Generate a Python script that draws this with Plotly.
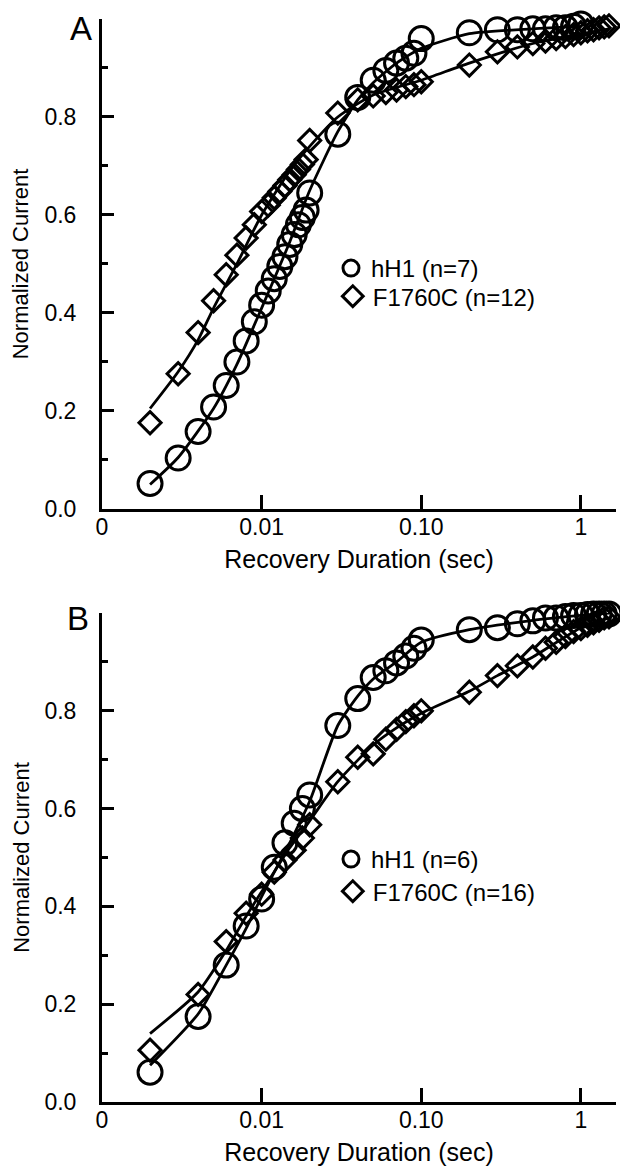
import plotly.graph_objects as go

# ---------------- Panel A data ----------------
xA_hH1 = [0.002, 0.003, 0.004, 0.005, 0.006, 0.007, 0.008, 0.009, 0.010,
          0.011, 0.012, 0.013, 0.014, 0.015, 0.016, 0.017, 0.018, 0.019, 0.020,
          0.03, 0.04, 0.05, 0.06, 0.07, 0.08, 0.09, 0.10,
          0.2, 0.3, 0.4, 0.5, 0.6, 0.7, 0.8, 0.9, 1.0]
yA_hH1 = [0.052, 0.104, 0.158, 0.208, 0.252, 0.300, 0.343, 0.382, 0.416,
          0.445, 0.470, 0.495, 0.515, 0.540, 0.560, 0.580, 0.595, 0.610, 0.645,
          0.765, 0.840, 0.875, 0.895, 0.910, 0.920, 0.930, 0.960,
          0.972, 0.978, 0.978, 0.980, 0.980, 0.982, 0.982, 0.985, 0.990]

xA_F = [0.002, 0.003, 0.004, 0.005, 0.006, 0.007, 0.008, 0.009, 0.010,
        0.011, 0.012, 0.013, 0.014, 0.015, 0.016, 0.017, 0.018, 0.019, 0.020,
        0.03, 0.04, 0.05, 0.06, 0.07, 0.08, 0.09, 0.10,
        0.2, 0.3, 0.4, 0.5, 0.6, 0.7, 0.8, 0.9, 1.0, 1.1, 1.2, 1.3, 1.4, 1.5]
yA_F = [0.176, 0.276, 0.360, 0.425, 0.478, 0.518, 0.553, 0.580, 0.607,
        0.620, 0.635, 0.648, 0.660, 0.672, 0.682, 0.693, 0.703, 0.713, 0.752,
        0.808, 0.835, 0.843, 0.850, 0.855, 0.862, 0.866, 0.872,
        0.906, 0.933, 0.943, 0.950, 0.955, 0.960, 0.964, 0.968, 0.972, 0.976, 0.978, 0.982, 0.984, 0.986]

# fitted curves
xA_hH1_fit = [0.002, 0.003, 0.005, 0.007, 0.010, 0.015, 0.020, 0.030, 0.040, 0.050, 0.070, 0.10, 0.20, 0.50, 1.0]
yA_hH1_fit = [0.050, 0.105, 0.205, 0.295, 0.410, 0.545, 0.650, 0.770, 0.835, 0.870, 0.910, 0.940, 0.970, 0.980, 0.985]
xA_F_fit = [0.002, 0.003, 0.004, 0.005, 0.007, 0.010, 0.015, 0.020, 0.030, 0.050, 0.10, 0.20, 0.50, 1.0, 1.5]
yA_F_fit = [0.205, 0.280, 0.345, 0.410, 0.500, 0.600, 0.690, 0.740, 0.800, 0.845, 0.875, 0.910, 0.950, 0.970, 0.980]

# ---------------- Panel B data ----------------
xB = [0.002, 0.004, 0.006, 0.008, 0.010, 0.012, 0.014, 0.016, 0.018, 0.020,
      0.03, 0.04, 0.05, 0.06, 0.07, 0.08, 0.09, 0.10,
      0.2, 0.3, 0.4, 0.5, 0.6, 0.7, 0.8, 0.9, 1.0, 1.1, 1.2, 1.3, 1.4, 1.5]
yB_hH1 = [0.061, 0.175, 0.280, 0.360, 0.415, 0.480, 0.530, 0.570, 0.600, 0.628,
          0.770, 0.825, 0.868, 0.882, 0.898, 0.912, 0.928, 0.945,
          0.966, 0.970, 0.978, 0.984, 0.990, 0.990, 0.993, 0.995, 0.995, 0.997, 0.998, 0.998, 0.998, 0.998]
yB_F = [0.106, 0.220, 0.328, 0.386, 0.425, 0.470, 0.495, 0.515, 0.540, 0.567,
        0.655, 0.705, 0.712, 0.742, 0.762, 0.778, 0.790, 0.800,
        0.838, 0.872, 0.892, 0.910, 0.928, 0.940, 0.952, 0.962, 0.968, 0.975, 0.980, 0.985, 0.990, 0.992]

xB_hH1_fit = [0.002, 0.004, 0.006, 0.008, 0.010, 0.012, 0.015, 0.020, 0.030, 0.040, 0.050, 0.070, 0.10, 0.20, 0.50, 1.0, 1.5]
yB_hH1_fit = [0.075, 0.180, 0.280, 0.355, 0.420, 0.470, 0.530, 0.615, 0.770, 0.830, 0.865, 0.900, 0.940, 0.966, 0.985, 0.995, 1.000]
xB_F_fit = [0.002, 0.004, 0.006, 0.008, 0.010, 0.015, 0.020, 0.030, 0.050, 0.070, 0.10, 0.20, 0.30, 0.50, 1.0, 1.5]
yB_F_fit = [0.140, 0.225, 0.310, 0.380, 0.430, 0.520, 0.575, 0.655, 0.730, 0.765, 0.795, 0.840, 0.872, 0.910, 0.970, 0.990]

legendA = ["hH1 (n=7)", "F1760C (n=12)"]
legendB = ["hH1 (n=6)", "F1760C (n=16)"]

x_tickvals = [0.001, 0.01, 0.1, 1]
x_ticktext = ["0", "0.01", "0.10", "1"]
y_tickvals = [0.0, 0.2, 0.4, 0.6, 0.8]
y_ticktext = ["0.0", "0.2", "0.4", "0.6", "0.8"]
y_minor = [0.1, 0.3, 0.5, 0.7, 0.9]

FONT = "Liberation Sans, Arial, Helvetica, sans-serif"
FS = 23
BLK = "black"

fig = go.Figure()

def add_panel(xa, ya, xc, yc, xcf, ycf, xd, yd, xdf, ydf, names, legends):
    # fitted lines
    for xf, yf in ((xcf, ycf), (xdf, ydf)):
        fig.add_trace(go.Scatter(x=xf, y=yf, mode="lines",
                                 line=dict(color=BLK, width=2.8, shape="spline", smoothing=0.6),
                                 xaxis=xa, yaxis=ya, showlegend=False, cliponaxis=False, hoverinfo="skip"))
    # markers
    fig.add_trace(go.Scatter(x=xc, y=yc, mode="markers", name=names[0], legend=legends[0],
                             marker=dict(symbol="circle-open", size=24, color=BLK, line=dict(width=3, color=BLK)),
                             xaxis=xa, yaxis=ya, cliponaxis=False))
    fig.add_trace(go.Scatter(x=xd, y=yd, mode="markers", name=names[1], legend=legends[1],
                             marker=dict(symbol="diamond-open", size=17, color=BLK, line=dict(width=3, color=BLK)),
                             xaxis=xa, yaxis=ya, cliponaxis=False))

add_panel("x", "y", xA_hH1, yA_hH1, xA_hH1_fit, yA_hH1_fit, xA_F, yA_F, xA_F_fit, yA_F_fit,
          legendA, ("legend", "legend3"))
add_panel("x2", "y2", xB, yB_hH1, xB_hH1_fit, yB_hH1_fit, xB, yB_F, xB_F_fit, yB_F_fit,
          legendB, ("legend2", "legend4"))

def xaxis_cfg(anchor):
    return dict(type="log", range=[-3, 0.22], anchor=anchor, domain=[0, 1], automargin=False,
                showline=True, linewidth=3, linecolor=BLK, showgrid=False, zeroline=False,
                ticks="inside", ticklen=14, tickwidth=3, tickcolor=BLK,
                tickvals=x_tickvals, ticktext=x_ticktext, ticklabelstandoff=-5,
                tickfont=dict(family=FONT, size=FS, color=BLK),
                title=dict(text="Recovery Duration (sec)", font=dict(family=FONT, size=25, color=BLK), standoff=12))

def yaxis_cfg(anchor, domain):
    return dict(range=[0, 1.0], anchor=anchor, domain=domain, automargin=False,
                showline=True, linewidth=3, linecolor=BLK, showgrid=False, zeroline=False,
                ticks="inside", ticklen=12, tickwidth=3, tickcolor=BLK,
                tickvals=y_tickvals, ticktext=y_ticktext, ticklabelstandoff=18,
                minor=dict(tickvals=y_minor, ticks="inside", ticklen=6, tickwidth=3, tickcolor=BLK, showgrid=False),
                tickfont=dict(family=FONT, size=FS, color=BLK))

legend_common = dict(font=dict(family=FONT, size=24, color=BLK), bgcolor="rgba(0,0,0,0)",
                     borderwidth=0, itemwidth=30, xanchor="left", yanchor="top", tracegroupgap=0)

ytitle_font = dict(family=FONT, size=22, color=BLK)

# The page body adds an 8px offset; the figure is sized so the plot areas land where the reference has them.
fig.update_layout(
    template="none",
    width=620, height=1166,
    margin=dict(l=94, r=12, t=11, b=72),
    paper_bgcolor="white", plot_bgcolor="white",
    font=dict(family=FONT, size=FS, color=BLK),
    xaxis=xaxis_cfg("y"),
    yaxis=yaxis_cfg("x", [0.5476, 1.0]),
    xaxis2=xaxis_cfg("y2"),
    yaxis2=yaxis_cfg("x2", [0.0, 0.4515]),
    legend=dict(x=0.4455, y=0.7904, **legend_common),
    legend3=dict(x=0.449, y=0.7645, **legend_common),
    legend2=dict(x=0.4455, y=0.2447, **legend_common),
    legend4=dict(x=0.449, y=0.2151, **legend_common),
    annotations=[
        dict(text="A", xref="paper", yref="paper", x=-0.04, y=0.9915, showarrow=False,
             font=dict(family=FONT, size=33, color=BLK), xanchor="center", yanchor="middle"),
        dict(text="B", xref="paper", yref="paper", x=-0.046, y=0.4465, showarrow=False,
             font=dict(family=FONT, size=33, color=BLK), xanchor="center", yanchor="middle"),
        dict(text="Normalized Current", xref="paper", yref="y domain", x=-0.157, y=0.5,
             textangle=-90, showarrow=False, font=ytitle_font, xanchor="center", yanchor="middle"),
        dict(text="Normalized Current", xref="paper", yref="y2 domain", x=-0.157, y=0.5,
             textangle=-90, showarrow=False, font=ytitle_font, xanchor="center", yanchor="middle"),
    ],
)

fig.write_html("out.html")
